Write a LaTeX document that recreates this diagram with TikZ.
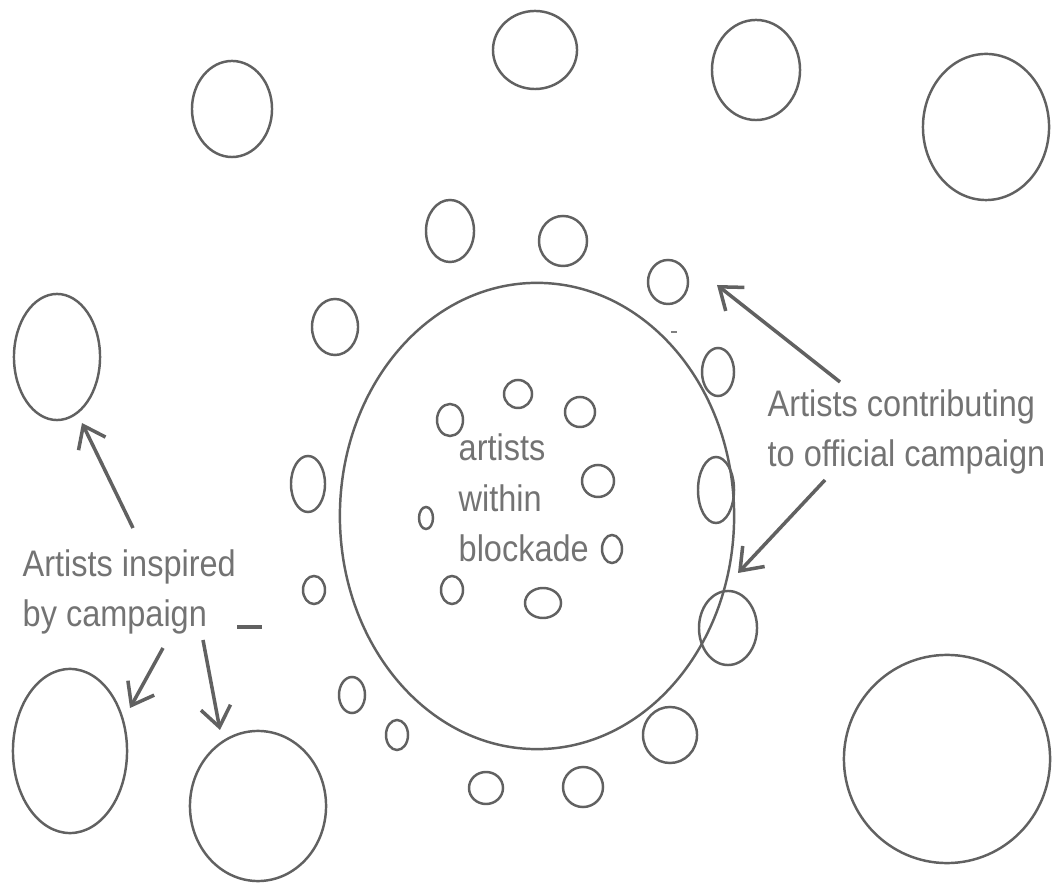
\documentclass[tikz,border=0pt]{standalone}
\usepackage{fontspec}
\newfontfamily\notefont[FakeStretch=0.88]{Liberation Sans}
\usetikzlibrary{shapes.geometric, arrows.meta, positioning}

\begin{document}
\begin{tikzpicture}[
    x=0.01cm, y=-0.01cm,
    artist/.style={ellipse, draw=black!62, line width=0.7pt, inner sep=0pt, outer sep=0pt},
    arrow/.style={-{Straight Barb[length=2mm, width=3mm]}, line width=1pt, draw=black!62},
    note/.style={font=\notefont\fontsize{10.5}{14.5}\selectfont, text=black!55, align=left, inner sep=0pt}
]
\useasboundingbox (0,0) rectangle (1058,883);

% the blockade
\node[artist, minimum width=3.94cm, minimum height=4.66cm] (blockade) at (537,516) {};

% artists within blockade
\foreach \x/\y/\rx/\ry [count=\i] in {518/394/14/14, 450/420/13/16, 580/412/15/15, 598/481/16/16,
    426/518/7/11, 612/549/10/14, 452/590/11/14, 543/603/18/15}
  \node[artist, minimum width=\rx*0.02cm, minimum height=\ry*0.02cm] (inner\i) at (\x,\y) {};

% official campaign ring
\foreach \x/\y/\rx/\ry [count=\i] in {450/231/24/31, 563/241/24/25, 668/282/20/22, 335/327/23/28,
    718/372/16/24, 716/490/18/33, 728/628/29/37, 670/735/27/28, 583/787/20/20, 486/788/17/16,
    397/735/11/15, 352/695/13/18, 314/590/11/14, 308/484/17/28}
  \node[artist, minimum width=\rx*0.02cm, minimum height=\ry*0.02cm] (ring\i) at (\x,\y) {};

% inspired artists outside
\foreach \x/\y/\rx/\ry [count=\i] in {232/109/40/48, 535/50/42/39, 756/70/44/50, 986/127/63/73,
    57/357/43/63, 70/751/57/82, 258/806/68/75, 947/759/103/104}
  \node[artist, minimum width=\rx*0.02cm, minimum height=\ry*0.02cm] (outer\i) at (\x,\y) {};

% labels (base = last line)
\node[note, anchor=base west] (within) at (458,562) {artists\\within\\blockade};
\node[note, anchor=base west] (inspired) at (22,627) {Artists inspired\\by campaign};
\node[note, anchor=base west] (official) at (767,467) {Artists contributing\\to official campaign};

% arrow ends
\coordinate (insp up) at (133,528);
\coordinate (insp left) at (163,648);
\coordinate (insp down) at (203,640);
\coordinate (off up) at (840,382);
\coordinate (off down) at (825,480);
\coordinate (tip up) at (82,423);
\coordinate (tip left) at (130,708);
\coordinate (tip down) at (220,730);
\coordinate (tip ring) at (717,285);
\coordinate (tip edge) at (738,573);

\draw[arrow] (insp up) -- (tip up);
\draw[arrow] (insp left) -- (tip left);
\draw[arrow] (insp down) -- (tip down);
\draw[arrow] (off up) -- (tip ring);
\draw[arrow] (off down) -- (tip edge);

% stray marks
\draw[black!62, line width=1pt] (237,627) -- (262,627);
\draw[black!50, line width=0.8pt] (671,332) -- (677,332);
\end{tikzpicture}
\end{document}
